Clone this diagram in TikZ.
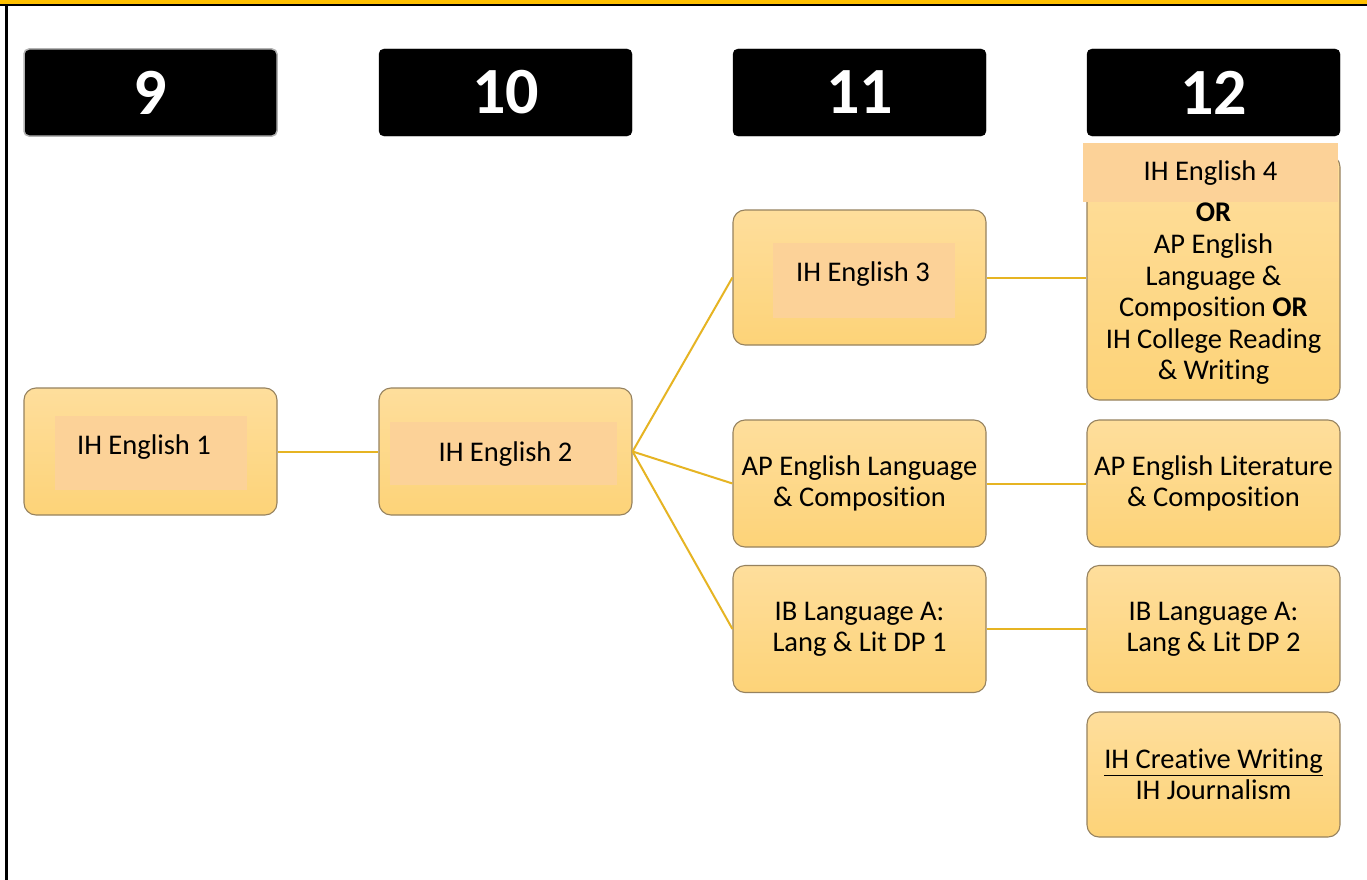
\documentclass[tikz,border=0pt]{standalone}
\usepackage{fontspec}
\setmainfont{Carlito}[RawFeature=-liga]
\definecolor{boxtop}{RGB}{254,222,156}
\definecolor{boxbot}{RGB}{253,211,120}
\definecolor{boxline}{RGB}{150,130,95}
\definecolor{inner}{RGB}{252,210,152}
\definecolor{link}{RGB}{230,180,35}
\definecolor{band}{RGB}{255,192,0}
\begin{document}
\begin{tikzpicture}[x=1pt,y=-1pt,
  year/.style={fill=black,draw=black,rounded corners=5pt,minimum width=253pt,
    minimum height=87pt,text=white,font=\bfseries\fontsize{66}{66}\selectfont},
  course/.style={draw=boxline,line width=1.1pt,top color=boxtop,bottom color=boxbot,
    rounded corners=12pt,minimum width=253pt,minimum height=127pt,align=center,
    inner sep=0pt,font=\fontsize{28.5}{31}\selectfont},
  label/.style={font=\fontsize{28.5}{31}\selectfont},
  link/.style={draw=link,line width=2pt}]
  \useasboundingbox (0,0) rectangle (1367,880);
  \fill[white] (0,0) rectangle (1367,880);
  % frame
  \fill[band] (0,0) rectangle (1367,4);
  \fill[black] (0,4) rectangle (1367,6.5);
  \fill[black] (5,4) rectangle (7.5,880);
  % grades
  \node[year,draw=gray!60,line width=1.5pt] (g9) at (150.5,92.5) {9};
  \node[year] (g10) at (505.5,92.5) {10};
  \node[year] (g11) at (859.5,92.5) {11};
  \node[year] (g12) at (1213.5,92.5) {12};
  % courses
  \node[course] (e1) at (150.5,451.5) {};
  \fill[inner] (55,416) rectangle (247,490);
  \node[label] (e1txt) at (144,447) {IH English 1};
  \node[course] (e2) at (505.5,451.5) {};
  \fill[inner] (390,422) rectangle (617,485);
  \node[label] (e2txt) at (505.5,454) {IH English 2};
  \node[course,minimum height=135pt] (e3) at (859.5,277.5) {};
  \fill[inner] (773,243) rectangle (955,318);
  \node[label] (e3txt) at (863,274) {IH English 3};
  \node[course,yshift=-2pt] (apl) at (859.5,481.5) {AP English Language\\\& Composition};
  \node[course,yshift=-2pt] (ib1) at (859.5,627) {IB Language A:\\Lang \& Lit DP 1};
  \node[course,minimum height=245pt] (e4) at (1213.5,277.5) {};
  \fill[inner] (1083,143) rectangle (1338,202);
  \node[label] (e4txt) at (1210.5,173) {IH English 4};
  \node[label,align=center,font=\fontsize{28.5}{31.6}\selectfont] (e4alt) at (1213.5,294)
    {\textbf{OR}\\AP English\\Language \&\\Composition \textbf{OR}\\IH College Reading\\\& Writing};
  \node[course,yshift=-2pt] (apc) at (1213.5,481.5) {AP English Literature\\\& Composition};
  \node[course,yshift=-2pt] (ib2) at (1213.5,627) {IB Language A:\\Lang \& Lit DP 2};
  \node[course,minimum height=125pt] (cw) at (1213.5,774.5) {\underline{IH Creative Writing}\\IH Journalism};
  % links
  \draw[link] (e1.east) -- (e2.west);
  \draw[link] (e2.east) -- (e3.west);
  \draw[link] (e2.east) -- (apl.west);
  \draw[link] (e2.east) -- (ib1.west);
  \draw[link] (e3.east) -- (e4.west);
  \draw[link] (apl.east) -- (apc.west);
  \draw[link] (ib1.east) -- (ib2.west);
\end{tikzpicture}
\end{document}
